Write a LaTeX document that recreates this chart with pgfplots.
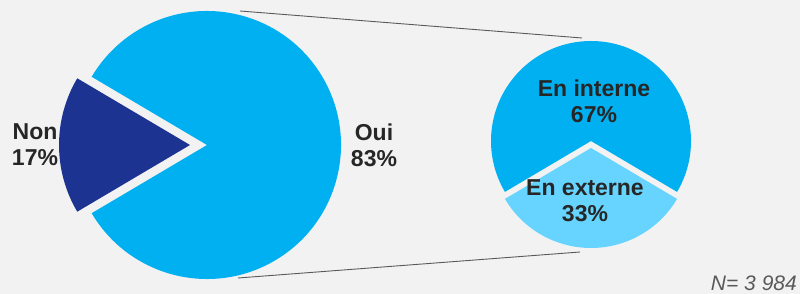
\documentclass[border=0pt]{standalone}
\usepackage{pgfplots}
\pgfplotsset{compat=1.18}
\usepackage{pgfplotstable}
\usepackage{fontspec}
\setmainfont{Liberation Sans}
\definecolor{bg}{HTML}{F2F2F2}
\definecolor{oui}{HTML}{00B0F0}
\definecolor{non}{HTML}{1C3391}
\definecolor{ext}{HTML}{66D4FF}
\definecolor{txt}{HTML}{262626}
\definecolor{conn}{HTML}{595959}

\pgfplotstableread{
label value
Oui 83
Non 17
}\mainpie
\pgfplotstableread{
label value
interne 67
externe 33
}\subpie

\begin{document}
\begin{tikzpicture}
\useasboundingbox (0,0) rectangle (800pt,294pt);
\pgfplotstablegetelem{0}{value}\of\mainpie \let\vOui\pgfplotsretval
\pgfplotstablegetelem{1}{value}\of\mainpie \let\vNon\pgfplotsretval
\pgfplotstablegetelem{0}{value}\of\subpie \let\vInt\pgfplotsretval
\pgfplotstablegetelem{1}{value}\of\subpie \let\vExt\pgfplotsretval
\pgfmathsetmacro\aOui{\vOui/(\vOui+\vNon)*180}
\pgfmathsetmacro\aInt{\vInt/(\vInt+\vExt)*180}
\pgfmathsetmacro\sInt{90-\aInt}
\pgfmathsetmacro\eInt{90+\aInt}
\begin{axis}[x=1pt,y=1pt,xmin=0,xmax=800,ymin=0,ymax=294,hide axis,clip=false,at={(0,0)},anchor=south west]
\fill[bg] (axis cs:0,0) rectangle (axis cs:800,294);
\addplot[conn, line width=0.9pt, no marks] coordinates {(240,283) (582,256)};
\addplot[conn, line width=0.9pt, no marks] coordinates {(238,16) (580,42)};
% main pie
\fill[oui] (axis cs:207,149) -- ++(-\aOui:134pt) arc[start angle=-\aOui, end angle=\aOui, radius=134pt] -- cycle;
\fill[non] (axis cs:190,149) -- ++(\aOui:131pt) arc[start angle=\aOui, end angle=360-\aOui, radius=131pt] -- cycle;
% secondary pie
\fill[oui] (axis cs:591,153) -- ++(\sInt:100pt) arc[start angle=\sInt, end angle=\eInt, radius=100pt] -- cycle;
\fill[ext] (axis cs:591,146) -- ++(\eInt:100pt) arc[start angle=\eInt, end angle=\sInt+360, radius=100pt] -- cycle;
% labels
\node[font=\fontsize{23}{26}\selectfont\bfseries, text=txt, align=center] at (axis cs:35,149) {Non\\17\%};
\node[font=\fontsize{23}{26}\selectfont\bfseries, text=txt, align=center] at (axis cs:374,149) {Oui\\83\%};
\node[font=\fontsize{23}{26}\selectfont\bfseries, text=txt, align=center] at (axis cs:594,193) {En interne\\67\%};
\node[font=\fontsize{23}{26}\selectfont\bfseries, text=txt, align=center] at (axis cs:585,93) {En externe\\33\%};
\node[anchor=base east, font=\fontsize{21}{24}\selectfont\itshape, text=conn, inner sep=0pt] at (axis cs:797,3) {N= 3 984};
\end{axis}
\end{tikzpicture}
\end{document}
